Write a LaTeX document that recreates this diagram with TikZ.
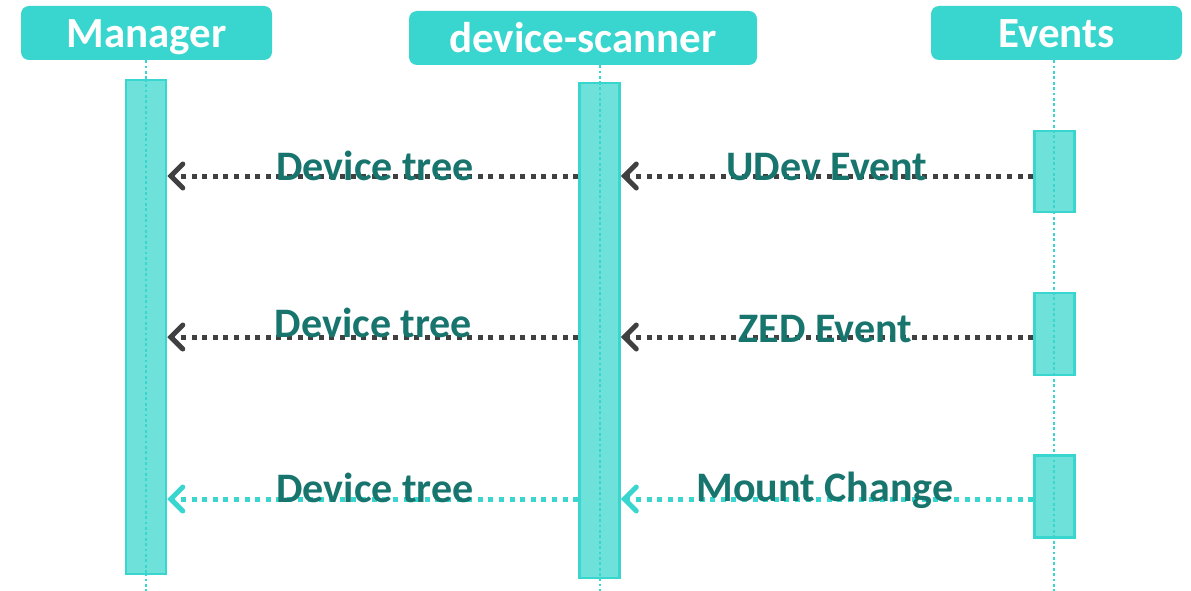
\documentclass[tikz,border=0pt]{standalone}
\usepackage{fontspec}
\setmainfont{Carlito}
\usetikzlibrary{arrows.meta}
\definecolor{headfill}{RGB}{56,214,207}
\definecolor{barfill}{RGB}{110,226,218}
\definecolor{labeltext}{RGB}{23,117,110}
\definecolor{msgdark}{RGB}{64,64,64}
\tikzset{
  header/.style={fill=headfill, draw=none, rounded corners=8pt, text=white,
    font=\bfseries\fontsize{43}{46}\selectfont, inner sep=0pt,
    text height=30pt, text depth=0pt},
  actbar/.style={fill=barfill, draw=headfill, line width=2.5pt, minimum width=40pt, inner sep=0pt},
  lifeline/.style={draw=headfill, line width=2.8pt, dash pattern=on 2.8pt off 2.6pt},
  msg/.style={line width=5pt, dash pattern=on 5pt off 5.6pt,
    -{Straight Barb[length=12pt, width=24pt, line width=5pt, line cap=round]}},
  msglabel/.style={text=labeltext, font=\bfseries\fontsize{42}{45}\selectfont,
    inner sep=0pt, anchor=base}
}
\begin{document}
\begin{tikzpicture}[x=1pt, y=-1pt]
\useasboundingbox (0,0) rectangle (1191,591);

% participants
\node[header, minimum width=251pt, minimum height=54pt] (mgr) at (146.5,33) {Manager};
\node[header, minimum width=348pt, minimum height=54pt] (ds) at (583,38) {device-scanner};
\node[header, minimum width=251pt, minimum height=54pt] (ev) at (1056.5,33) {Events};

% lifelines
\coordinate (mgrend) at (146,591);
\coordinate (dsend) at (600,591);
\coordinate (evend) at (1054,591);
\draw[lifeline] (mgr.south -| mgrend) -- (mgrend);
\draw[lifeline] (ds.south -| dsend) -- (dsend);
\draw[lifeline] (ev.south -| evend) -- (evend);

% activation bars
\node[actbar, minimum height=494pt] (mgrbar) at (146,327) {};
\node[actbar, minimum height=495pt] (dsbar) at (599.5,330.5) {};
\node[actbar, minimum height=81pt] (ev1) at (1054.5,171.5) {};
\node[actbar, minimum height=82pt] (ev2) at (1054.5,334) {};
\node[actbar, minimum height=82pt] (ev3) at (1054.5,496.5) {};
\draw[lifeline] (mgrbar.north -| mgrend) -- (mgrbar.south -| mgrend);
\draw[lifeline] (dsbar.north -| dsend) -- (dsbar.south -| dsend);
\draw[lifeline] (ev1.north -| evend) -- (ev1.south -| evend);
\draw[lifeline] (ev2.north -| evend) -- (ev2.south -| evend);
\draw[lifeline] (ev3.north -| evend) -- (ev3.south -| evend);

% message rows
\coordinate (r1) at (0,176);
\coordinate (r2) at (0,337);
\coordinate (r3) at (0,499);

\draw[msg, draw=msgdark] (ev1.west |- r1) -- (dsbar.east |- r1);
\draw[msg, draw=msgdark] (dsbar.west |- r1) -- (mgrbar.east |- r1);
\draw[msg, draw=msgdark] (ev2.west |- r2) -- (dsbar.east |- r2);
\draw[msg, draw=msgdark] (dsbar.west |- r2) -- (mgrbar.east |- r2);
\draw[msg, draw=headfill] (ev3.west |- r3) -- (dsbar.east |- r3);
\draw[msg, draw=headfill] (dsbar.west |- r3) -- (mgrbar.east |- r3);

% message labels
\node[msglabel] (l1a) at (375,180) {Device tree};
\node[msglabel] (l1b) at (827,180) {UDev Event};
\node[msglabel] (l2a) at (373.5,337) {Device tree};
\node[msglabel] (l2b) at (825.5,342) {ZED Event};
\node[msglabel] (l3a) at (375,502) {Device tree};
\node[msglabel] (l3b) at (825,501) {Mount Change};
\end{tikzpicture}
\end{document}
